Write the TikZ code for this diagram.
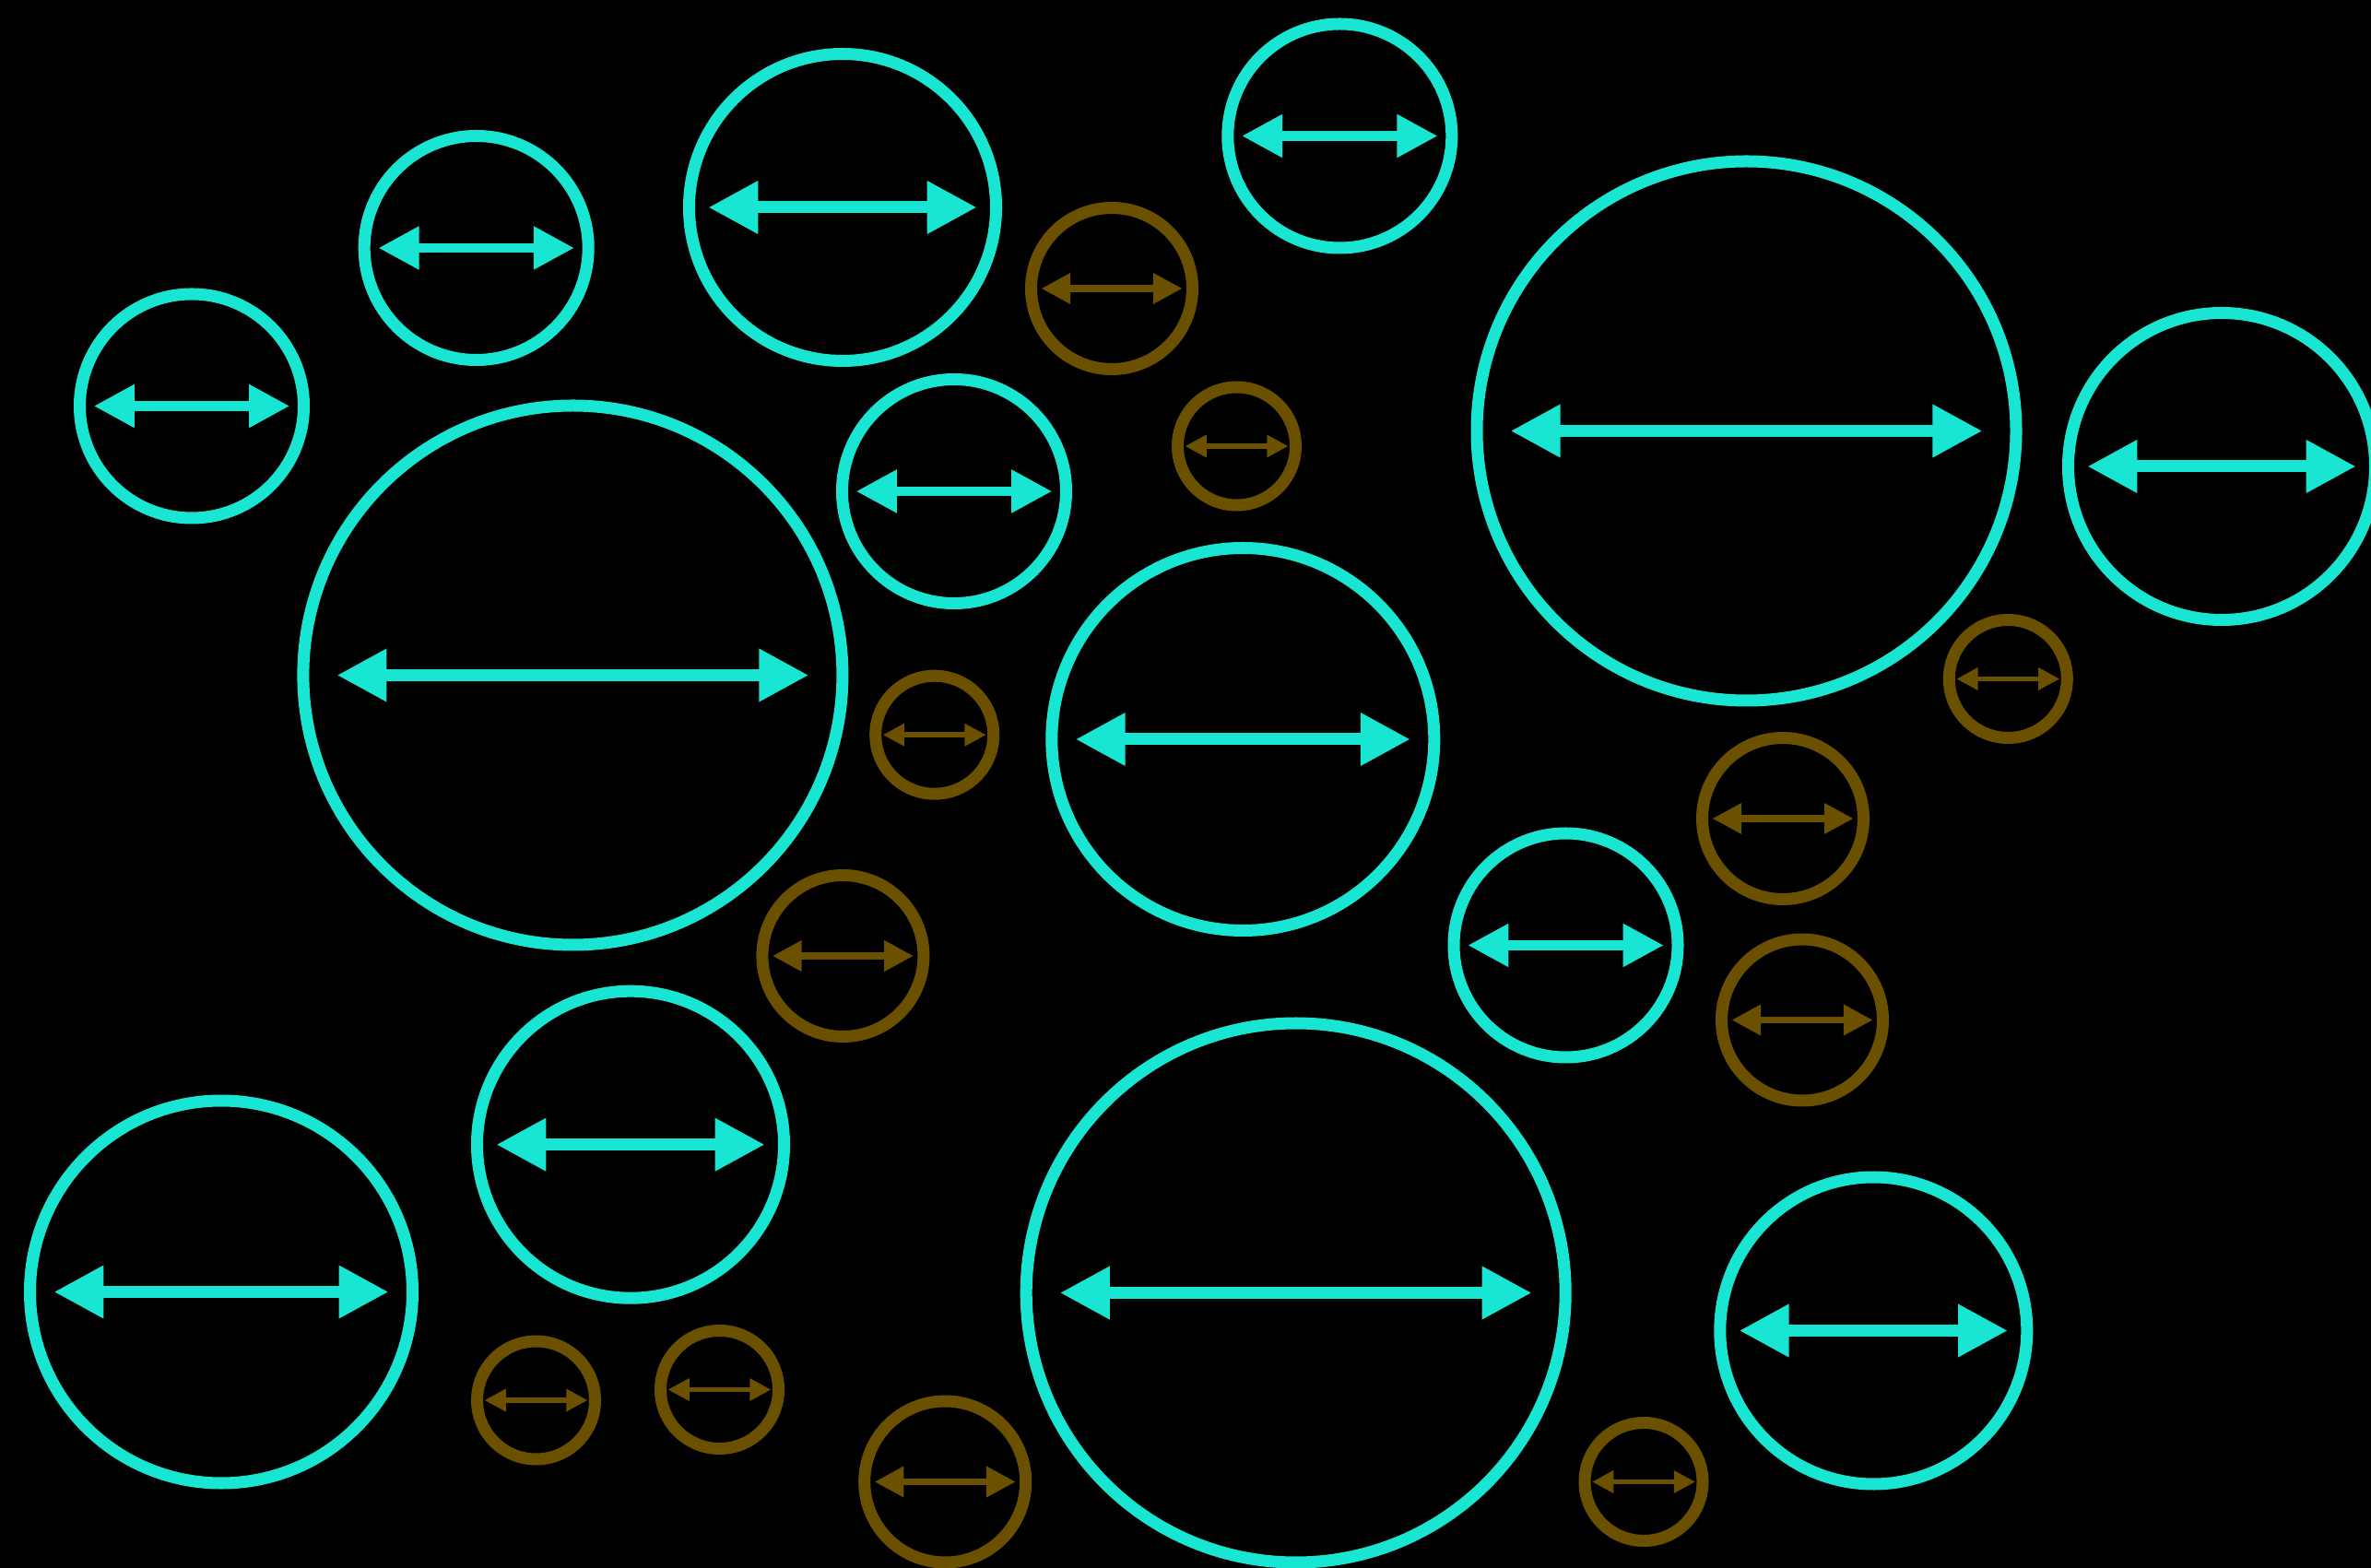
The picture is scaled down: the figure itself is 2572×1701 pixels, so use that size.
\documentclass[tikz,border=0pt]{standalone}
\usepackage{tikz}
\usetikzlibrary{arrows.meta}
\definecolor{bubbleteal}{RGB}{25,230,210}
\definecolor{bubblebrown}{RGB}{107,80,0}

\begin{document}
\begin{tikzpicture}[x=0.01cm, y=-0.01cm,
		ring/.style={line width=0.13cm}]
		\fill[black] (0,0) rectangle (2572,1701);
		\useasboundingbox (0,0) rectangle (2572,1701);
		% circles with a diameter arrow: name/x/y/radius/colour
		\foreach \n/\cx/\cy/\r/\col in {
				t1/208/440.5/121.5/bubbleteal,
				t2/516.7/269/121.5/bubbleteal,
				t3/914/225/166.5/bubbleteal,
				t4/1453.3/147.5/121.5/bubbleteal,
				t5/1894.5/467.5/292.5/bubbleteal,
				t6/2410/506/166.5/bubbleteal,
				t7/621.4/732.5/292.5/bubbleteal,
				t8/1035/533/121.5/bubbleteal,
				t9/1348.3/802/207.5/bubbleteal,
				t10/1698.5/1025.5/121.5/bubbleteal,
				t11/684/1241.7/166.5/bubbleteal,
				t12/240/1401.5/207.5/bubbleteal,
				t13/1405.7/1402.5/292.5/bubbleteal,
				t14/2032.3/1443.5/166.5/bubbleteal,
				b1/1206/313/87.5/bubblebrown,
				b2/1341.5/484/64/bubblebrown,
				b3/1013.7/797.2/64/bubblebrown,
				b4/914.4/1037/87.5/bubblebrown,
				b5/2178.3/736.5/64/bubblebrown,
				b6/1934/888/87.5/bubblebrown,
				b7/1955/1106.5/87.5/bubblebrown,
				b8/581.5/1519/64/bubblebrown,
				b9/780.5/1507.5/64/bubblebrown,
				b10/1025.2/1607.5/87.5/bubblebrown,
				b11/1783/1607.5/64/bubblebrown}{
			\coordinate (c\n) at (\cx,\cy);
			\coordinate (l\n) at (\cx-0.875*\r,\cy);
			\coordinate (r\n) at (\cx+0.875*\r,\cy);
			\pgfmathsetmacro\w{min(0.0875*\r,13)*0.2845}
			\pgfmathsetmacro\hl{4.15*\w}
			\draw[\col, ring] (c\n) circle[radius=\r];
			\draw[\col, line width=\w pt,
				{Triangle[length=\hl pt,width=\hl pt]}-{Triangle[length=\hl pt,width=\hl pt]}]
				(l\n) -- (r\n);
		}
	\end{tikzpicture}
\end{document}
